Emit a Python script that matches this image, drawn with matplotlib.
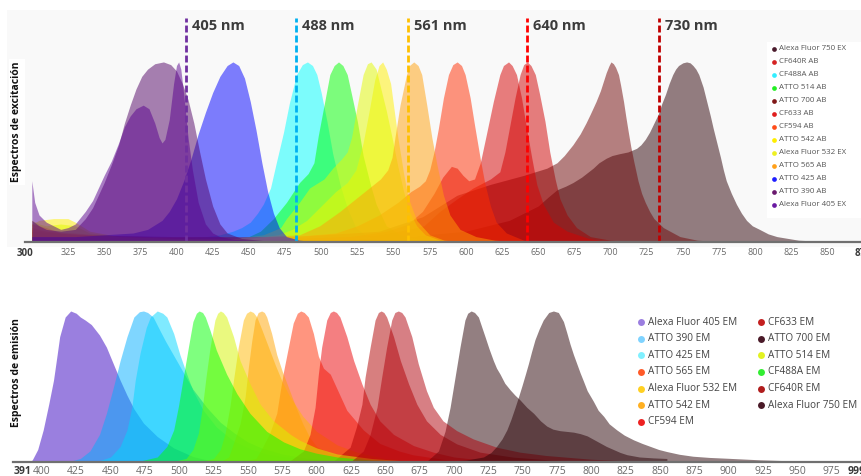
import matplotlib

matplotlib.use("Agg")
import matplotlib.pyplot as plt
from matplotlib.lines import Line2D
from matplotlib.patches import Rectangle

plt.rcParams['font.family'] = ['Open Sans', 'DejaVu Sans']

W, H = 862, 476

# ---------------- excitation / absorption spectra (nm, normalised) ----------------
AF405_EX = [(300, .34), (302, .22), (305, .15), (310, .11), (320, .07), (325, .08), (330, .10),
            (337, .17), (342, .23), (346, .30), (350, .37), (355, .45), (360, .55), (364, .64),
            (368, .70), (372, .74), (377, .76), (381, .74), (385, .66), (388, .58), (390, .55),
            (392, .57), (395, .68), (398, .88), (400, .98), (401.5, 1.0), (403, .96), (405, .82),
            (408, .58), (411, .40), (415, .22), (420, .10), (425, .05), (430, .03), (440, .015),
            (460, .005), (500, 0)]
ATTO390_AB = [(300, .12), (305, .09), (310, .07), (320, .06), (330, .07), (337, .13), (342, .19),
              (346, .26), (350, .33), (355, .43), (360, .54), (364, .66), (368, .76), (372, .85),
              (376, .92), (380, .96), (385, .99), (391, 1.0), (396, .985), (400, .95), (404, .88),
              (408, .79), (412, .66), (416, .50), (420, .35), (425, .20), (430, .10), (435, .05),
              (445, .02), (470, 0)]
ATTO425_AB = [(300, .03), (330, .03), (350, .04), (370, .05), (380, .07), (390, .12), (395, .17),
              (400, .24), (405, .34), (410, .46), (415, .60), (420, .72), (425, .83), (430, .92),
              (435, .98), (439, 1.0), (443, .98), (447, .91), (451, .78), (455, .62), (459, .44),
              (463, .28), (467, .16), (471, .08), (476, .03), (485, .01), (500, 0)]
CF488A_AB = [(300, .04), (320, .03), (350, .03), (380, .02), (400, .02), (420, .03), (430, .04),
             (439, .06), (445, .08), (451, .11), (456, .16), (460, .21), (465, .30), (469, .44),
             (474, .61), (478, .77), (483, .93), (487, .985), (490.5, 1.0), (494, .98), (497, .93),
             (500, .83), (504, .67), (508, .49), (513, .32), (518, .19), (524, .08), (530, .04),
             (536, .02), (550, 0)]
ATTO514_AB = [(300, .03), (400, .02), (440, .02), (450, .03), (458, .06), (467, .13), (476, .22),
              (485, .33), (491, .38), (495, .44), (498, .59), (502, .76), (506, .93), (509, .98),
              (512, 1.0), (515, .98), (518, .93), (521, .82), (525, .67), (529, .48), (534, .32),
              (538, .21), (545, .09), (555, .04), (570, .01), (590, 0)]
AF532_EX = [(300, .12), (305, .10), (310, .09), (320, .10), (330, .09), (340, .05), (360, .03),
            (400, .02), (440, .02), (460, .04), (472, .08), (476, .13), (485, .22), (492, .30),
            (502, .35), (508, .41), (514, .46), (518, .50), (521, .58), (525, .76), (529, .93),
            (532, .99), (534.5, 1.0), (538, .96), (541, .86), (545, .73), (549, .58), (553, .42),
            (557, .28), (561, .17), (566, .09), (572, .04), (582, .01), (600, 0)]
ATTO542_AB = [(300, .10), (305, .12), (315, .13), (325, .13), (330, .11), (340, .06), (360, .03),
              (400, .02), (450, .02), (470, .04), (480, .07), (490, .12), (500, .20), (510, .28),
              (518, .33), (524, .40), (529, .55), (533, .72), (537, .90), (540, .98), (542.5, 1.0),
              (545, .96), (548, .88), (550, .76), (553, .58), (557, .38), (560, .25), (566, .12),
              (575, .04), (585, .01), (600, 0)]
ATTO565_AB = [(300, .10), (310, .08), (320, .05), (340, .04), (380, .03), (420, .03), (460, .03),
              (485, .04), (499, .09), (513, .17), (527, .26), (541, .35), (546, .40), (549, .47),
              (551, .58), (554.5, .76), (559, .93), (561, .98), (564, 1.0), (567, .98), (569.5, .93),
              (573, .76), (576.5, .58), (580, .43), (584.5, .26), (589, .15), (596, .07), (607, .03),
              (620, .01), (640, 0)]
CF594_AB = [(300, .08), (310, .06), (330, .05), (360, .03), (420, .02), (480, .03), (510, .05),
            (525, .09), (540, .15), (553, .22), (562, .28), (568, .31), (572, .34), (575, .40),
            (578, .50), (581, .63), (584.5, .80), (588, .93), (591, .985), (594, 1.0), (597, .98),
            (599.5, .93), (603, .80), (606, .65), (610, .46), (613, .33), (617, .20), (621, .11),
            (628, .05), (640, .01), (660, 0)]
CF633_AB = [(300, .07), (320, .05), (350, .03), (420, .02), (480, .02), (520, .03), (545, .06),
            (560, .10), (570, .17), (578, .27), (584, .36), (590, .42), (594, .41), (598, .37),
            (602, .34), (606, .35), (610, .44), (614, .59), (619, .78), (623.5, .93), (626, .98),
            (629.5, 1.0), (632, .98), (635, .93), (638.5, .80), (642, .63), (645.5, .47), (649, .32),
            (653.5, .21), (660.5, .11), (670, .06), (685, .02), (700, 0)]
CF640R_AB = [(300, .06), (330, .04), (400, .02), (480, .02), (540, .04), (560, .07), (571, .09),
             (582, .17), (594, .24), (605, .30), (617, .35), (623.5, .39), (627, .50), (630.5, .65),
             (634, .80), (637.5, .93), (640, .985), (642.5, 1.0), (645, .98), (648, .93), (651, .82),
             (654.7, .67), (658, .50), (661.7, .35), (665, .24), (670, .15), (676.5, .08), (686, .03),
             (700, .01), (720, 0)]
ATTO700_AB = [(300, .06), (330, .04), (400, .03), (480, .03), (540, .06), (570, .14), (594, .26),
              (617, .32), (640, .37), (648, .39), (656, .41), (663, .44), (668, .48), (674, .54),
              (679, .60), (683, .66), (686, .71), (690, .78), (693, .84), (695, .89), (697, .94),
              (699, .98), (700.3, 1.0), (702, .99), (703.5, .97), (705.5, .93), (707, .87),
              (709, .78), (710.5, .70), (712.3, .61), (714, .53), (716, .45), (719, .34),
              (721.5, .27), (724, .22), (727, .17), (730, .13), (736.5, .08), (748, .03),
              (760, .01), (780, 0)]
AF750_EX = [(300, .03), (400, .01), (500, .01), (560, .03), (600, .06), (630, .12), (650, .20),
            (657, .25), (663, .29), (669, .31), (674, .33), (680, .36), (684, .385), (688, .41),
            (692, .44), (697, .465), (701, .48), (706, .49), (712, .50), (718, .52), (721, .54),
            (724, .57), (727, .61), (730, .66), (733, .71), (735.5, .77), (738, .82), (740.5, .88),
            (743, .93), (745, .96), (747, .98), (750, .995), (752.6, 1.0), (755, .995), (757, .98),
            (759, .96), (761, .93), (764, .86), (766.5, .78), (769, .70), (771, .63), (773.5, .55),
            (776, .47), (778, .40), (780, .34), (783.5, .27), (787, .21), (790.5, .16), (794, .12),
            (798, .09), (803, .07), (809, .045), (815, .03), (830, .01), (850, .002), (875, 0)]

# ---------------- emission spectra ----------------
AF405_EM = [(391, 0), (393, .01), (397, .08), (401, .21), (405, .38), (408.5, .54), (411, .70),
            (413, .83), (417, .96), (421, 1.0), (425, .985), (428, .96), (431.5, .94), (436, .91),
            (442, .84), (447, .76), (452, .65), (457, .54), (462, .44), (467, .35), (474, .255),
            (484, .166), (496, .09), (510, .033), (520, .011), (540, 0)]
ATTO390_EM = [(391, 0), (420, 0), (428, .02), (435, .07), (442, .18), (447, .32), (452, .49),
              (457, .67), (462, .83), (467, .96), (471, .995), (474, 1.0), (477, .99), (481, .96),
              (486, .87), (490, .80), (495, .72), (500, .64), (505, .56), (510, .48), (520, .36),
              (530, .26), (540, .19), (550, .13), (560, .09), (575, .05), (590, .025), (610, .01),
              (640, 0)]
ATTO425_EM = [(391, 0), (440, 0), (450, .03), (457, .10), (462, .21), (465.5, .36), (468, .54),
              (471.5, .72), (476, .89), (479, .96), (484, 1.0), (488, .985), (491, .96), (496, .85),
              (500.5, .71), (505.5, .58), (510, .47), (517.5, .34), (527, .23), (539, .14),
              (552, .083), (564, .05), (588, .018), (620, .005), (650, 0)]
CF488A_EM = [(391, 0), (470, 0), (484, .03), (491, .10), (496, .21), (499.5, .37), (503, .56),
             (506.7, .76), (510, .93), (512.5, .985), (514.5, 1.0), (517, .99), (519, .96),
             (522.5, .87), (527, .74), (534.5, .58), (542, .45), (551.5, .32), (563.7, .20),
             (576, .13), (588, .084), (600, .055), (615, .03), (640, .01), (670, 0)]
ATTO514_EM = [(391, 0), (495, 0), (505, .02), (510, .08), (514, .19), (517, .37), (519.5, .56),
              (522.5, .76), (526, .94), (528, .985), (530, 1.0), (532, .99), (534.5, .96),
              (539.5, .83), (544.3, .67), (551.6, .515), (559, .38), (568.6, .27), (581, .18),
              (588, .14), (600, .09), (615, .05), (640, .02), (670, 0)]
AF532_EM = [(391, 0), (515, 0), (525, .02), (530, .08), (533.5, .19), (537, .37), (539.5, .54),
            (543, .76), (546.7, .94), (549, .985), (551.6, 1.0), (554, .99), (556.5, .96), (560, .88),
            (565, .76), (570, .64), (575, .53), (580, .44), (590, .30), (600, .20), (615, .11),
            (630, .06), (650, .02), (680, 0)]
ATTO542_EM = [(391, 0), (530, 0), (536, .03), (539.5, .12), (544.3, .25), (548, .43), (550.4, .63),
              (552.8, .80), (555.2, .94), (557.5, .99), (560, 1.0), (562, .99), (563.7, .96),
              (567.3, .85), (571, .71), (575, .60), (580, .48), (585, .36), (590, .25), (595, .16),
              (600, .10), (610, .05), (630, .015), (660, 0)]
ATTO565_EM = [(391, 0), (545, 0), (556, .02), (561, .10), (566, .19), (571, .32), (573.4, .46),
              (576, .60), (579.5, .76), (583, .92), (586, .985), (588.5, 1.0), (591, .99), (594, .96),
              (597.7, .85), (601.3, .70), (605, .62), (610, .58), (616, .46), (622, .34), (634, .21),
              (646, .12), (660, .07), (670, .045), (695, .011), (720, 0)]
CF594_EM = [(391, 0), (580, 0), (590.4, .07), (595.2, .18), (598.9, .36), (601.3, .58), (603.7, .76),
            (607.4, .94), (610, .99), (612.2, 1.0), (614.5, .99), (617, .96), (622, .83), (627, .67),
            (633, .515), (639, .38), (646, .27), (656, .18), (670.5, .106), (685, .062), (700, .03),
            (720, .01), (750, 0)]
CF633_EM = [(391, 0), (612, 0), (624.4, .095), (629, .23), (633, .38), (635.3, .56), (639, .76),
            (642.6, .94), (645, .99), (647, 1.0), (649, .99), (651, .96), (656, .83), (661, .67),
            (667, .515), (673, .38), (680, .27), (690, .18), (702, .117), (719, .062), (743, .029),
            (770, .01), (800, 0)]
CF640R_EM = [(391, 0), (625, 0), (634, .07), (639, .18), (644, .36), (647.4, .56), (651, .76),
             (654.7, .94), (657, .99), (659.5, 1.0), (662, .99), (664.4, .96), (669.3, .83),
             (674, .65), (680, .47), (685, .36), (692, .27), (702, .205), (714, .15), (731, .095),
             (748, .062), (767, .04), (800, .015), (840, 0)]
ATTO700_EM = [(391, 0), (680, 0), (688.7, .07), (693.5, .20), (697.2, .36), (700.8, .56),
              (704.4, .76), (708, .94), (710, .985), (712.5, 1.0), (715, .99), (717.8, .96),
              (720, .90), (722.6, .83), (725.5, .75), (728.7, .67), (731, .62), (733.6, .58),
              (737, .52), (741, .475), (744.5, .44), (748, .41), (753, .36), (758, .32), (763, .27),
              (767.6, .235), (772, .215), (777, .205), (782, .20), (787, .195), (792, .185),
              (797, .17), (801, .15), (806, .125), (811, .10), (816, .08), (821, .06), (826, .045),
              (835, .03), (845, .024), (855, .02)]
AF750_EM = [(391, 0), (690, 0), (709, .01), (721.5, .03), (727, .06), (731, .10), (735, .15),
            (738.5, .21), (741.5, .28), (744.5, .36), (747, .43), (749.4, .50), (752, .58),
            (754.2, .65), (756.5, .73), (759, .81), (762, .88), (765, .94), (769, .99), (772.4, 1.0),
            (776, .99), (779.7, .93), (782, .86), (784.5, .78), (787, .71), (789.4, .65),
            (791.8, .59), (794, .54), (797, .47), (801.5, .40), (805, .34), (809, .30), (813, .25),
            (818.5, .21), (824, .175), (830.7, .144), (837, .12), (843, .10), (849, .08),
            (855, .066), (864, .048), (874, .035), (886, .027), (898, .022), (923, .011),
            (947, .004), (999, 0)]

# (legend label, spectrum, fill colour, legend dot colour) in legend order
EX_SERIES = [
    ("Alexa Fluor 750 EX", AF750_EX, "#2c0006", "#4a1a2c"),
    ("CF640R AB", CF640R_AB, "#d00000", "#d42222"),
    ("CF488A AB", CF488A_AB, "#00ffff", "#33eeff"),
    ("ATTO 514 AB", ATTO514_AB, "#00ff00", "#22ee22"),
    ("ATTO 700 AB", ATTO700_AB, "#700606", "#801818"),
    ("CF633 AB", CF633_AB, "#d60000", "#e01e1e"),
    ("CF594 AB", CF594_AB, "#ff2c00", "#ff4d1a"),
    ("ATTO 542 AB", ATTO542_AB, "#fff000", "#ffee00"),
    ("Alexa Fluor 532 EX", AF532_EX, "#e2fa00", "#eef022"),
    ("ATTO 565 AB", ATTO565_AB, "#ffa00a", "#ffa01a"),
    ("ATTO 425 AB", ATTO425_AB, "#0000ff", "#1e1eff"),
    ("ATTO 390 AB", ATTO390_AB, "#520466", "#6a1a6e"),
    ("Alexa Fluor 405 EX", AF405_EX, "#58008e", "#6a1aa2"),
]
EM_SERIES = [
    ("Alexa Fluor 405 EM", AF405_EM, "#3700c1", "#9b7ee0"),
    ("ATTO 390 EM", ATTO390_EM, "#00afff", "#7fd3ff"),
    ("ATTO 425 EM", ATTO425_EM, "#00d7ff", "#80f0ff"),
    ("ATTO 565 EM", ATTO565_EM, "#ff2d00", "#ff5a28"),
    ("Alexa Fluor 532 EM", AF532_EM, "#ffb900", "#ffd022"),
    ("ATTO 542 EM", ATTO542_EM, "#ffa500", "#ffb022"),
    ("CF594 EM", CF594_EM, "#eb0005", "#ee2222"),
    ("CF633 EM", CF633_EM, "#b00000", "#c42020"),
    ("ATTO 700 EM", ATTO700_EM, "#280005", "#4a1a28"),
    ("ATTO 514 EM", ATTO514_EM, "#d7f500", "#e2f222"),
    ("CF488A EM", CF488A_EM, "#00ff00", "#33ee33"),
    ("CF640R EM", CF640R_EM, "#b0000a", "#b01c1c"),
    ("Alexa Fluor 750 EM", AF750_EM, "#280005", "#4a1a28"),
]

LASER_LABELS = ["405 nm", "488 nm", "561 nm", "640 nm", "730 nm"]
LASER_AT = [406.4, 482.4, 559.8, 642.1, 733.3]   # where the dashed marks sit on the axis
LASER_COLORS = ["#7030a0", "#00b0f0", "#ffc000", "#ff0000", "#c00000"]


def fx(px):
    return px / W


def fy(py):
    return 1 - py / H


def fill_spectra(ax, series):
    for label, pts, fill, _ in series:
        xs = [p[0] for p in pts]
        ys = [p[1] for p in pts]
        ax.fill_between(xs, ys, 0, color=fill, alpha=0.5, lw=0)


def style_axis(ax, ticks, size, pad):
    for side in ("top", "right", "left"):
        ax.spines[side].set_visible(False)
    ax.spines["bottom"].set_color("#707070")
    ax.spines["bottom"].set_linewidth(1.6)
    ax.set_yticks([])
    ax.set_xticks(ticks)
    ax.tick_params(axis="x", length=0, pad=pad, labelsize=size, labelcolor="#6a6a6a")
    ax.patch.set_alpha(0)


def edge_label(ax, x, text, dx, ha, size, pad_pt):
    ax.annotate(text, xy=(x, 0), xycoords=("data", "axes fraction"),
                xytext=(dx, -pad_pt), textcoords="offset points",
                ha=ha, va="top", fontsize=size, fontweight="bold", color="#3a3a3a",
                annotation_clip=False)


def dot(fig, x, y, color, ms):
    fig.add_artist(Line2D([fx(x)], [fy(y)], transform=fig.transFigure, marker="o",
                          ms=ms, color=color, ls="none", mew=0, zorder=5))


def main():
    fig = plt.figure(figsize=(W / 100, H / 100), dpi=100, facecolor="white")

    # light grey panel behind the excitation plot (kept under the axes)
    fig.patches.append(Rectangle((fx(7), fy(247)), fx(862) - fx(7), fy(10) - fy(247),
                                 transform=fig.transFigure, color="#f9f9f9", lw=0, zorder=-5))

    # ---- excitation panel ----
    ax1 = fig.add_axes([fx(25), fy(242), fx(863.7) - fx(25), fy(18) - fy(242)])
    ax1.set_xlim(295.3, 875)
    ax1.set_ylim(0, 1.244)
    fill_spectra(ax1, EX_SERIES)
    style_axis(ax1, list(range(325, 875, 25)), 6.5, 4.0)
    edge_label(ax1, 300, "300", 1, "right", 7, 4.0)
    edge_label(ax1, 875, "875", -6.3, "left", 7, 4.0)

    for lab, at, col in zip(LASER_LABELS, LASER_AT, LASER_COLORS):
        ax1.axvline(at, ymin=0, ymax=1, color=col, lw=2, ls=(0, (2.5, 1.1)))
        ax1.annotate(lab, xy=(at, 1), xycoords=("data", "axes fraction"),
                     xytext=(4.3, -5.8), textcoords="offset points", ha="left", va="center",
                     fontsize=10.5, fontweight="bold", color="#3c3c3c")

    fig.text(fx(17), fy(122), "Espectros de excitación", rotation=90, ha="center", va="center",
             fontsize=7.5, fontweight="bold", color="#111111", zorder=6,
             bbox=dict(facecolor="white", edgecolor="none", pad=2))

    # legend box for excitation
    fig.patches.append(Rectangle((fx(767), fy(218)), fx(862) - fx(767), fy(42) - fy(218),
                                 transform=fig.transFigure, color="white", lw=0, zorder=4))
    for i, (label, _, _, mcol) in enumerate(EX_SERIES):
        y = 48.7 + i * 13.02
        dot(fig, 774, y, mcol, 3.4)
        fig.text(fx(779.5), fy(y), label, ha="left", va="center", fontsize=5.7,
                 color="#555555", zorder=6)

    # ---- emission panel ----
    ax2 = fig.add_axes([fx(12.7), fy(461.5), fx(864.7) - fx(12.7), fy(300) - fy(461.5)])
    ax2.set_xlim(378.8, 999)
    ax2.set_ylim(0, 1.073)
    fill_spectra(ax2, EM_SERIES)
    style_axis(ax2, list(range(400, 999, 25)), 7.5, 3.2)
    edge_label(ax2, 391, "391", 1.4, "right", 7.5, 3.2)
    edge_label(ax2, 999, "999", -12, "left", 7.5, 3.2)

    fig.text(fx(17), fy(373), "Espectros de emisión", rotation=90, ha="center", va="center",
             fontsize=7.5, fontweight="bold", color="#111111")

    for i, (label, _, _, mcol) in enumerate(EM_SERIES):
        col, row = divmod(i, 7)
        y = 322.3 + row * 16.55
        mx = 641 if col == 0 else 761
        dot(fig, mx, y, mcol, 5)
        fig.text(fx(mx + 7), fy(y), label, ha="left", va="center", fontsize=7.2,
                 color="#444444", zorder=6)

    fig.savefig("out.png", dpi=100, facecolor="white")


if __name__ == "__main__":
    main()
